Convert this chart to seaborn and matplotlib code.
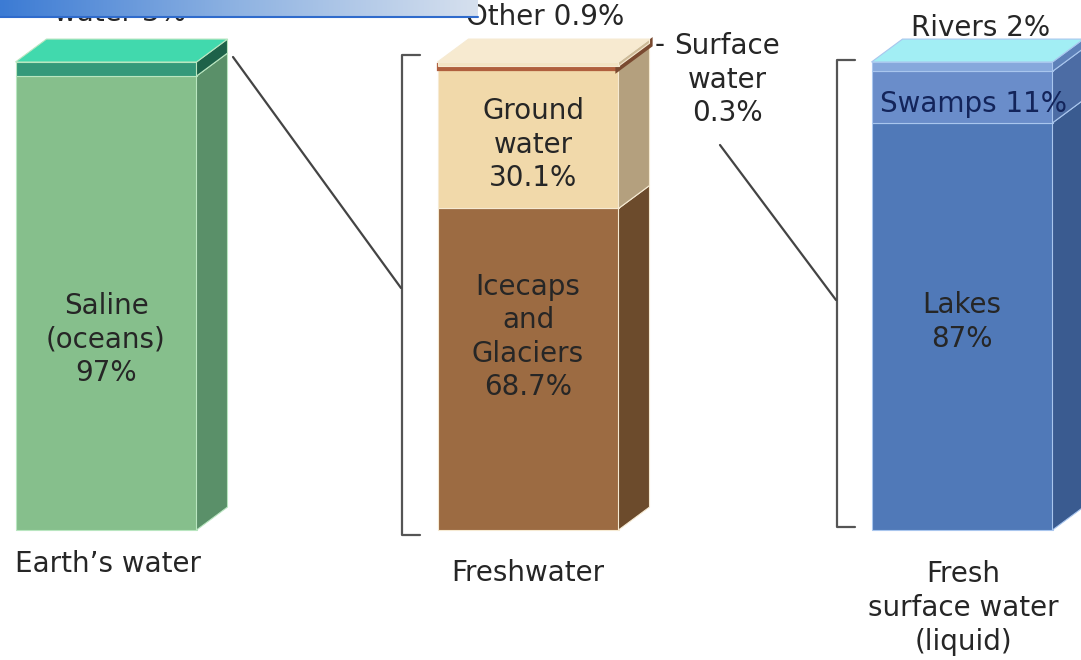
import matplotlib.pyplot as plt
import numpy as np
import seaborn as sns
from matplotlib.colors import LinearSegmentedColormap
from matplotlib.patches import Polygon

# values (percent of each column)
EARTH_PARTS = ["Saline (oceans)", "Fresh water"]
EARTH_PCT = [97, 3]
FRESH_PARTS = ["Icecaps and Glaciers", "Ground water", "Surface water", "Other"]
FRESH_PCT = [68.7, 30.1, 0.3, 0.9]
SURFACE_PARTS = ["Lakes", "Swamps", "Rivers"]
SURFACE_PCT = [87, 11, 2]

COLUMN_TITLES = ["Earth\u2019s water", "Freshwater", "Fresh\nsurface water\n(liquid)"]

# layout in pixels of the 1081x660 canvas
BASE_PX = 530
PX_PER_PCT = 4.68
BAR_WIDTH = 181
DEPTH_X = 31
DEPTH_PCT = 4.9

TEXT = "#262626"


def py(pixel_y):
    # pixel row -> percent on the shared y axis
    return (BASE_PX - pixel_y) / PX_PER_PCT


def draw_column(ax, xc, values, fronts, sides, top_color, edge="#e8f0e8", thick=None):
    thick = thick or {}
    left, right = xc - BAR_WIDTH / 2, xc + BAR_WIDTH / 2
    bottoms = np.concatenate([[0], np.cumsum(values)[:-1]])
    for i, (val, bottom) in enumerate(zip(values, bottoms)):
        lw = thick.get(i, 0.8)
        ec = fronts[i] if i in thick else edge
        ax.bar(xc, val, bottom=bottom, width=BAR_WIDTH - (lw if i in thick else 0),
               color=fronts[i], edgecolor=ec, linewidth=lw, zorder=2)
        top = bottom + val
        side = Polygon([(right, bottom), (right + DEPTH_X, bottom + DEPTH_PCT),
                        (right + DEPTH_X, top + DEPTH_PCT), (right, top)],
                       closed=True, facecolor=sides[i],
                       edgecolor=sides[i] if i in thick else edge,
                       linewidth=lw, zorder=2)
        ax.add_patch(side)
    total = bottoms[-1] + values[-1]
    lid = Polygon([(left, total), (left + DEPTH_X, total + DEPTH_PCT),
                   (right + DEPTH_X, total + DEPTH_PCT), (right, total)],
                  closed=True, facecolor=top_color, edgecolor=edge, linewidth=0.8, zorder=2)
    ax.add_patch(lid)


def bracket(ax, x, y_top, y_bottom, tick=18):
    ax.plot([x + tick, x, x, x + tick], [py(y_top), py(y_top), py(y_bottom), py(y_bottom)],
            color="#555555", lw=1.6, zorder=3)


sns.set_theme(style="white")
plt.rcParams["font.family"] = ["DejaVu Sans"]

fig = plt.figure(figsize=(10.81, 6.6), dpi=100)
ax = fig.add_axes([0, 0, 1, 1])
ax.set_xlim(0, 1081)
ax.set_ylim(py(660), py(0))
ax.axis("off")

# Earth's water
draw_column(ax, 106, EARTH_PCT,
            fronts=["#86bf8c", "#34997a"], sides=["#5a9069", "#1d6249"],
            top_color="#41d9ad", edge="#b9e6c0")
# Freshwater
draw_column(ax, 528, FRESH_PCT,
            fronts=["#9c6b42", "#f1d9aa", "#b0603e", "#f3e4c4"],
            sides=["#6c4b2c", "#b4a07e", "#7a4a30", "#cdbb98"],
            top_color="#f7ead0", edge="#f6ead2", thick={2: 4.5})
# Fresh surface water
draw_column(ax, 962, SURFACE_PCT,
            fronts=["#5079b8", "#6a8dca", "#86a8dc"],
            sides=["#3a5b90", "#4c6ca4", "#5d80b8"],
            top_color="#a2eef4", edge="#a9c6ee")

# brackets and connector lines
bracket(ax, 402, 55, 535)
bracket(ax, 837, 60, 527)
ax.plot([233, 401], [py(57), py(288)], color="#444444", lw=1.6, zorder=3)
ax.plot([720, 836], [py(145), py(300)], color="#444444", lw=1.6, zorder=3)

fs = 20
kw = dict(ha="center", va="center", fontsize=fs, color=TEXT, linespacing=1.25, zorder=4)

# labels inside and around the columns
ax.text(106, py(340), "Saline\n(oceans)\n97%", **kw)
ax.text(120, py(-4), "Fresh\nwater 3%", **kw)
ax.text(528, py(337), "Icecaps\nand\nGlaciers\n68.7%", **kw)
ax.text(533, py(145), "Ground\nwater\n30.1%", **kw)
ax.text(545, py(17), "Other 0.9%", **kw)
ax.text(660, py(45), "-", **kw)
ax.text(727, py(80), "Surface\nwater\n0.3%", **kw)
ax.text(962, py(322), "Lakes\n87%", **kw)
ax.text(974, py(104), "Swamps 11%", **{**kw, "color": "#13245a"})
ax.text(981, py(28), "Rivers 2%", **kw)

ax.text(108, py(564), COLUMN_TITLES[0], **kw)
ax.text(528, py(573), COLUMN_TITLES[1], **kw)
ax.text(963, py(608), COLUMN_TITLES[2], **kw)

# blue header strip across the top left (covers the top of the label)
banner = LinearSegmentedColormap.from_list("banner", ["#3c7bd4", "#8fb3e2", "#d6e0ee"])
ax.imshow(np.linspace(0, 1, 256).reshape(1, -1), cmap=banner, aspect="auto",
          extent=[0, 478, py(17), py(0)], zorder=5)
ax.plot([0, 478], [py(17), py(17)], color="#2f6bcc", lw=1.5, zorder=6)

fig.savefig("out.png", dpi=100)
